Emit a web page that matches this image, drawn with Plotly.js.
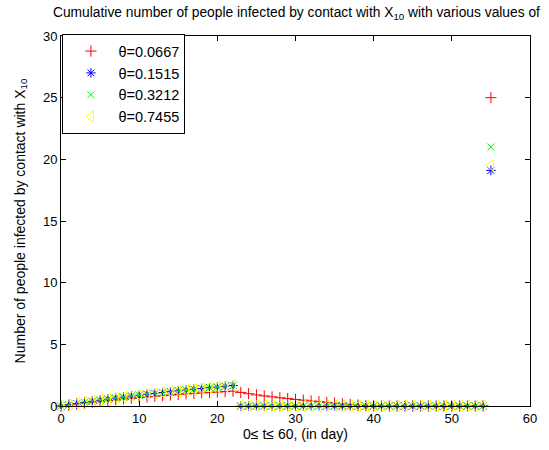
<!DOCTYPE html>
<html>
<head>
<meta charset="utf-8">
<script src="https://cdn.plot.ly/plotly-3.0.1.min.js"></script>
<style>html,body{margin:0;padding:0;background:#fff;}</style>
</head>
<body>
<div id="chart" style="width:549px;height:450px;"></div>
<script>
// day index t = 0..55
var days = [];
for (var i = 0; i <= 55; i++) days.push(i);

var seriesNames = ["θ=0.0667", "θ=0.1515", "θ=0.3212", "θ=0.7455"];

var theta0667 = [0,0.08,0.16,0.24,0.31,0.38,0.45,0.51,0.57,0.63,0.69,0.74,0.79,0.84,0.89,0.94,0.98,1.02,1.06,1.10,1.13,1.17,1.20,
  1.10,1.00,0.90,0.82,0.74,0.67,0.60,0.53,0.47,0.41,0.35,0.29,0.23,0.17,0.12,0.08,0.04,0.02,
  0,0,0,0,0,0,0,0,0,0,0,0,0,0,
  25.0];
var theta1515 = [0,0.10,0.20,0.29,0.38,0.47,0.56,0.64,0.72,0.80,0.88,0.95,1.02,1.09,1.16,1.23,1.30,1.36,1.42,1.48,1.54,1.60,1.66,
  0,0,0,0,0,0,0,0,0,0,0,0,0,0,0,0,0,0,0,0,0,0,0,0,0,0,0,0,0,0,0,0,
  19.1];
var theta3212 = [0,0.10,0.20,0.29,0.38,0.47,0.56,0.64,0.72,0.80,0.88,0.95,1.02,1.09,1.16,1.23,1.30,1.36,1.42,1.48,1.54,1.60,1.66,
  0,0,0,0,0,0,0,0,0,0,0,0,0,0,0,0,0,0,0,0,0,0,0,0,0,0,0,0,0,0,0,0,
  21.0];
var theta7455 = [0,0.10,0.20,0.29,0.38,0.47,0.56,0.64,0.72,0.80,0.88,0.95,1.02,1.09,1.16,1.23,1.30,1.36,1.42,1.48,1.54,1.60,1.66,
  0,0,0,0,0,0,0,0,0,0,0,0,0,0,0,0,0,0,0,0,0,0,0,0,0,0,0,0,0,0,0,0,
  19.5];

var xTicks = [0,10,20,30,40,50,60];
var yTicks = [0,5,10,15,20,25,30];

function tr(y, name, symbol, color, size) {
  return {
    x: days, y: y, name: name, type: 'scatter', mode: 'markers', cliponaxis: false,
    marker: {symbol: symbol, size: size, color: color, line: {color: color, width: 1}}
  };
}

var data = [
  tr(theta0667, seriesNames[0], 'cross-thin-open', '#ff0000', 8),
  tr(theta1515, seriesNames[1], 'asterisk-open', '#0000ff', 8),
  tr(theta3212, seriesNames[2], 'x-thin-open', '#00ff00', 7),
  tr(theta7455, seriesNames[3], 'triangle-left-open', '#ffff00', 10)
];

var fontFam = '"Liberation Sans", Arial, Helvetica, sans-serif';
var layout = {
  width: 549, height: 450,
  paper_bgcolor: '#fff', plot_bgcolor: '#fff',
  margin: {l: 61, r: 19, t: 36, b: 44},
  font: {family: fontFam, size: 13, color: '#000'},
  title: {
    text: 'Cumulative number of people infected by contact with X<sub>10</sub> with various values of',
    font: {family: fontFam, size: 13.8, color: '#000'},
    x: 0.54, xanchor: 'center', yref: 'container', y: 0.972, yanchor: 'middle'
  },
  xaxis: {
    range: [0, 60], tickvals: xTicks, ticks: 'inside', ticklen: 5, tickcolor: '#000',
    showline: true, linecolor: '#000', linewidth: 1, mirror: 'ticks',
    showgrid: false, zeroline: false, tickfont: {size: 13},
    title: {text: '0≤ t≤ 60, (in day)', font: {size: 14}, standoff: 1}
  },
  yaxis: {
    range: [0, 30], tickvals: yTicks, ticks: 'inside', ticklen: 5, tickcolor: '#000',
    showline: true, linecolor: '#000', linewidth: 1, mirror: 'ticks',
    showgrid: false, zeroline: false, tickfont: {size: 13},
    title: {text: 'Number of people infected by contact with X<sub>10</sub>', font: {size: 14}, standoff: 14}
  },
  showlegend: true,
  legend: {
    x: 0.003, y: 1.005, xanchor: 'left', yanchor: 'top',
    bgcolor: '#fff', bordercolor: '#000', borderwidth: 1,
    font: {size: 14.5}, itemwidth: 45
  }
};

Plotly.newPlot('chart', data, layout, {displayModeBar: false, staticPlot: true});
</script>
</body>
</html>
